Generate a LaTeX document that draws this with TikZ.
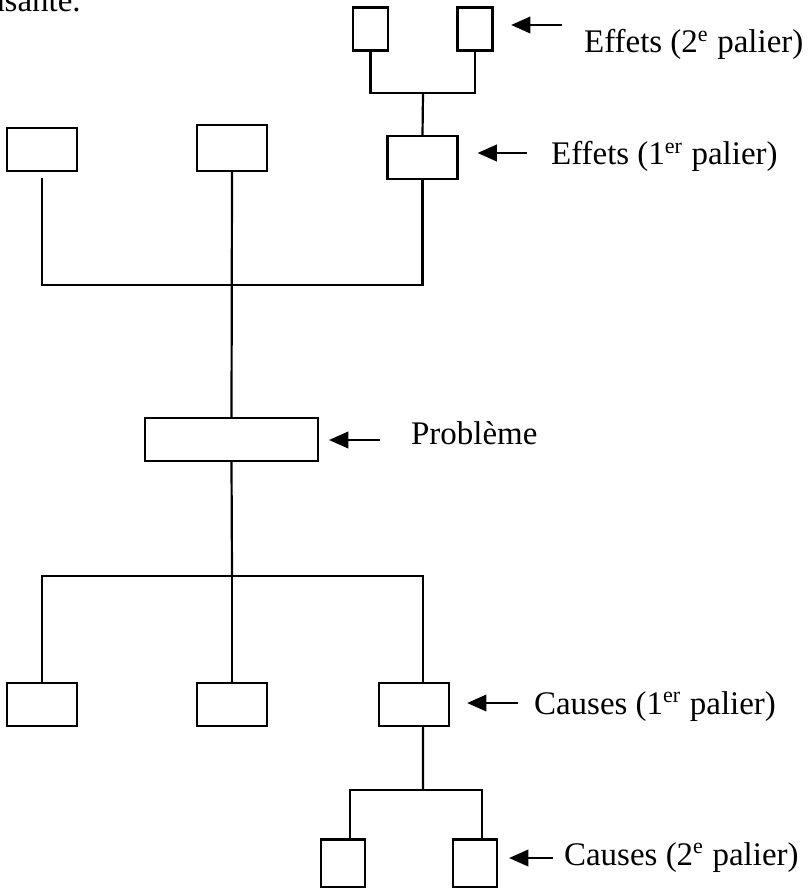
\documentclass[tikz,border=0pt]{standalone}
\usepackage{fontspec}
\setmainfont{Liberation Serif}
\usetikzlibrary{arrows.meta}

\begin{document}
\begin{tikzpicture}[x=0.364pt, y=-0.364pt, line width=0.8pt,
    box/.style={draw, inner sep=0pt, minimum width=25.5pt, minimum height=15.6pt},
    smallbox/.style={box, minimum width=12.7pt},
    pointer/.style={-{Triangle[length=7pt,width=6pt]}},
    lbl/.style={anchor=base west, inner sep=0pt, font=\fontsize{12}{14}\selectfont}]
    \useasboundingbox (0,0) rectangle (810,888);

    % cut text of the page above
    \node[lbl] (prev) at (-11,12) {asante.};

    % effets, 2e palier
    \node[smallbox] (e2a) at (370.5,29) {};
    \node[smallbox] (e2b) at (475,29) {};
    % effets, 1er palier
    \node[box] (e1a) at (42,149.5) {};
    \node[box, minimum height=16.7pt] (e1b) at (232,148) {};
    \node[box] (e1c) at (422.5,157.5) {};
    % probleme
    \node[box, minimum width=63pt] (prob) at (231.5,439.5) {};
    % causes, 1er palier
    \node[box] (c1a) at (42,704.5) {};
    \node[box] (c1b) at (232,704.5) {};
    \node[box] (c1c) at (414,704.5) {};
    % causes, 2e palier
    \node[smallbox, minimum width=16pt, minimum height=17.5pt] (c2a) at (343,863.5) {};
    \node[smallbox, minimum width=16pt, minimum height=17.5pt] (c2b) at (475,863.5) {};

    \coordinate (jtop) at (423,93);
    \coordinate (jeff) at (232,285);
    \coordinate (jcau) at (232,576);
    \coordinate (jbot) at (423,790);

    \draw (e2a.south) |- (jtop) -| (e2b.south);
    \draw (jtop) -- (e1c.north);
    \draw ([yshift=-2.2pt]e1a.south) |- (jeff) -| (e1c.south);
    \draw (e1b.south) -- (prob.north);
    \draw (prob.south) -- (jcau);
    \draw (c1a.north) |- (jcau) -| ([xshift=3.3pt]c1c.north);
    \draw (jcau) -- (c1b.north);
    \draw ([xshift=3.3pt]c1c.south) -- (jbot);
    \draw ([xshift=2.5pt]c2a.north) |- (jbot) -| ([xshift=2.5pt]c2b.north);

    % legendes
    \node[lbl] (le2) at (583,53) {Effets (2\textsuperscript{e} palier)};
    \node[lbl] (le1) at (550,165) {Effets (1\textsuperscript{er} palier)};
    \node[lbl] (lpb) at (410,444) {Problème};
    \node[lbl] (lc1) at (533,714) {Causes (1\textsuperscript{er} palier)};
    \node[lbl] (lc2) at (563,865) {Causes (2\textsuperscript{e} palier)};

    \coordinate (te2) at (562,25);
    \coordinate (te1) at (527,153);
    \coordinate (tpb) at (380,440);
    \coordinate (tc1) at (518,703);
    \coordinate (tc2) at (553,858);

    \draw[pointer] (te2) -- ([xshift=6.4pt]te2 -| e2b.east);
    \draw[pointer] (te1) -- ([xshift=6.9pt]te1 -| e1c.east);
    \draw[pointer] (tpb) -- ([xshift=3.6pt]tpb -| prob.east);
    \draw[pointer] (tc1) -- ([xshift=6.2pt]tc1 -| c1c.east);
    \draw[pointer] (tc2) -- ([xshift=4pt]tc2 -| c2b.east);
\end{tikzpicture}
\end{document}
